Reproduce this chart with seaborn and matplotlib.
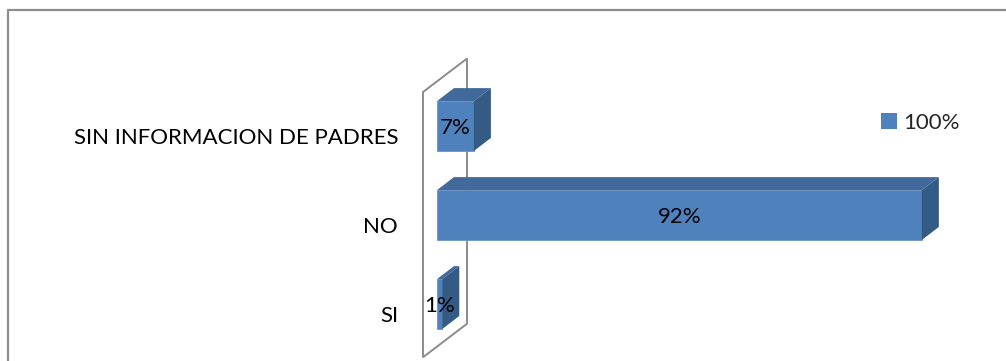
import matplotlib
matplotlib.use("Agg")
import matplotlib.pyplot as plt
from matplotlib.patches import Polygon, Patch, Rectangle
from matplotlib.lines import Line2D
from matplotlib.transforms import offset_copy
import seaborn as sns

# Data
categories = ["SIN INFORMACION DE PADRES", "NO", "SI"]
values = [7, 92, 1]
value_labels = ["7%", "92%", "1%"]
series_name = "100%"

W, H, DPI = 1006, 361, 100
FRONT = "#4F81BD"
TOP = "#41699B"
SIDE = "#345A86"
WALL = "#8C8C8C"
DEPTH = (17, 13)          # bar depth in pixels (right, up)
WALL_FRONT = (-14, -10.5)
WALL_BACK = (30, 23)

sns.set_theme(style="white")
plt.rcParams["font.family"] = ["Lato", "DejaVu Sans"]
FS = 16

fig = plt.figure(figsize=(W / DPI, H / DPI), dpi=DPI)
fig.patch.set_facecolor("white")
ax = fig.add_axes([437 / W, 0, 527 / W, 1])
ax.set_facecolor("none")

sns.barplot(x=values, y=categories, orient="h", color=FRONT, saturation=1,
            width=0.56, ax=ax, zorder=3, edgecolor="#6A93C8", linewidth=0.6)
ax.set_xlim(0, 100)
ax.set_ylim(2.64, -1.416)
ax.axis("off")
bars = [p for p in ax.patches if isinstance(p, Rectangle)]

fig.canvas.draw()
T = ax.transData


def disp(x, y, off=(0, 0)):
    px, py = T.transform((x, y))
    return (px + off[0], py + off[1])


# side wall of the category axis
n = len(categories)
top_y, bot_y = -0.5, n - 0.52
wall = [disp(0, top_y, WALL_FRONT), disp(0, top_y, WALL_BACK),
        disp(0, bot_y, WALL_BACK), disp(0, bot_y, WALL_FRONT)]
ax.add_patch(Polygon(wall, closed=True, fill=False, edgecolor=WALL, lw=1.4,
                     transform=None, zorder=1, clip_on=False))

# 3D faces of each bar
for p in bars:
    x0, y0 = p.get_x(), p.get_y()
    x1, y1 = x0 + p.get_width(), y0 + p.get_height()
    ytop, ybot = min(y0, y1), max(y0, y1)
    top = [disp(x0, ytop), disp(x1, ytop), disp(x1, ytop, DEPTH), disp(x0, ytop, DEPTH)]
    side = [disp(x1, ytop), disp(x1, ybot), disp(x1, ybot, DEPTH), disp(x1, ytop, DEPTH)]
    ax.add_patch(Polygon(top, closed=True, facecolor=TOP, edgecolor="none",
                         transform=None, zorder=4, clip_on=False))
    ax.add_patch(Polygon(side, closed=True, facecolor=SIDE, edgecolor="none",
                         transform=None, zorder=4, clip_on=False))

# value labels centred on the front faces
for i, (v, lab) in enumerate(zip(values, value_labels)):
    ax.text(v / 2, i + 0.02, lab, ha="center", va="center", fontsize=FS,
            color="black", zorder=6, clip_on=False)

# category labels beside the wall
lab_tr = offset_copy(T, fig=fig, x=-39, y=-12, units="dots")
for i, c in enumerate(categories):
    ax.text(0, i, c, transform=lab_tr, ha="right", va="center",
            fontsize=FS, color="black", clip_on=False)

# legend
handle = Patch(facecolor=FRONT, edgecolor="none")
fig.legend([handle], [series_name], loc="center left",
           bbox_to_anchor=(881 / W, 1 - 123 / H), frameon=False,
           fontsize=FS, handlelength=0.7, handleheight=0.7,
           handletextpad=0.3, borderpad=0, borderaxespad=0)

# chart frame
fig.add_artist(Line2D([8 / W, 8 / W, 1.0], [0, 1 - 10 / H, 1 - 10 / H],
                      transform=fig.transFigure, color="#8E8E8E", lw=1.6))

fig.savefig("out.png", dpi=DPI, facecolor="white")
